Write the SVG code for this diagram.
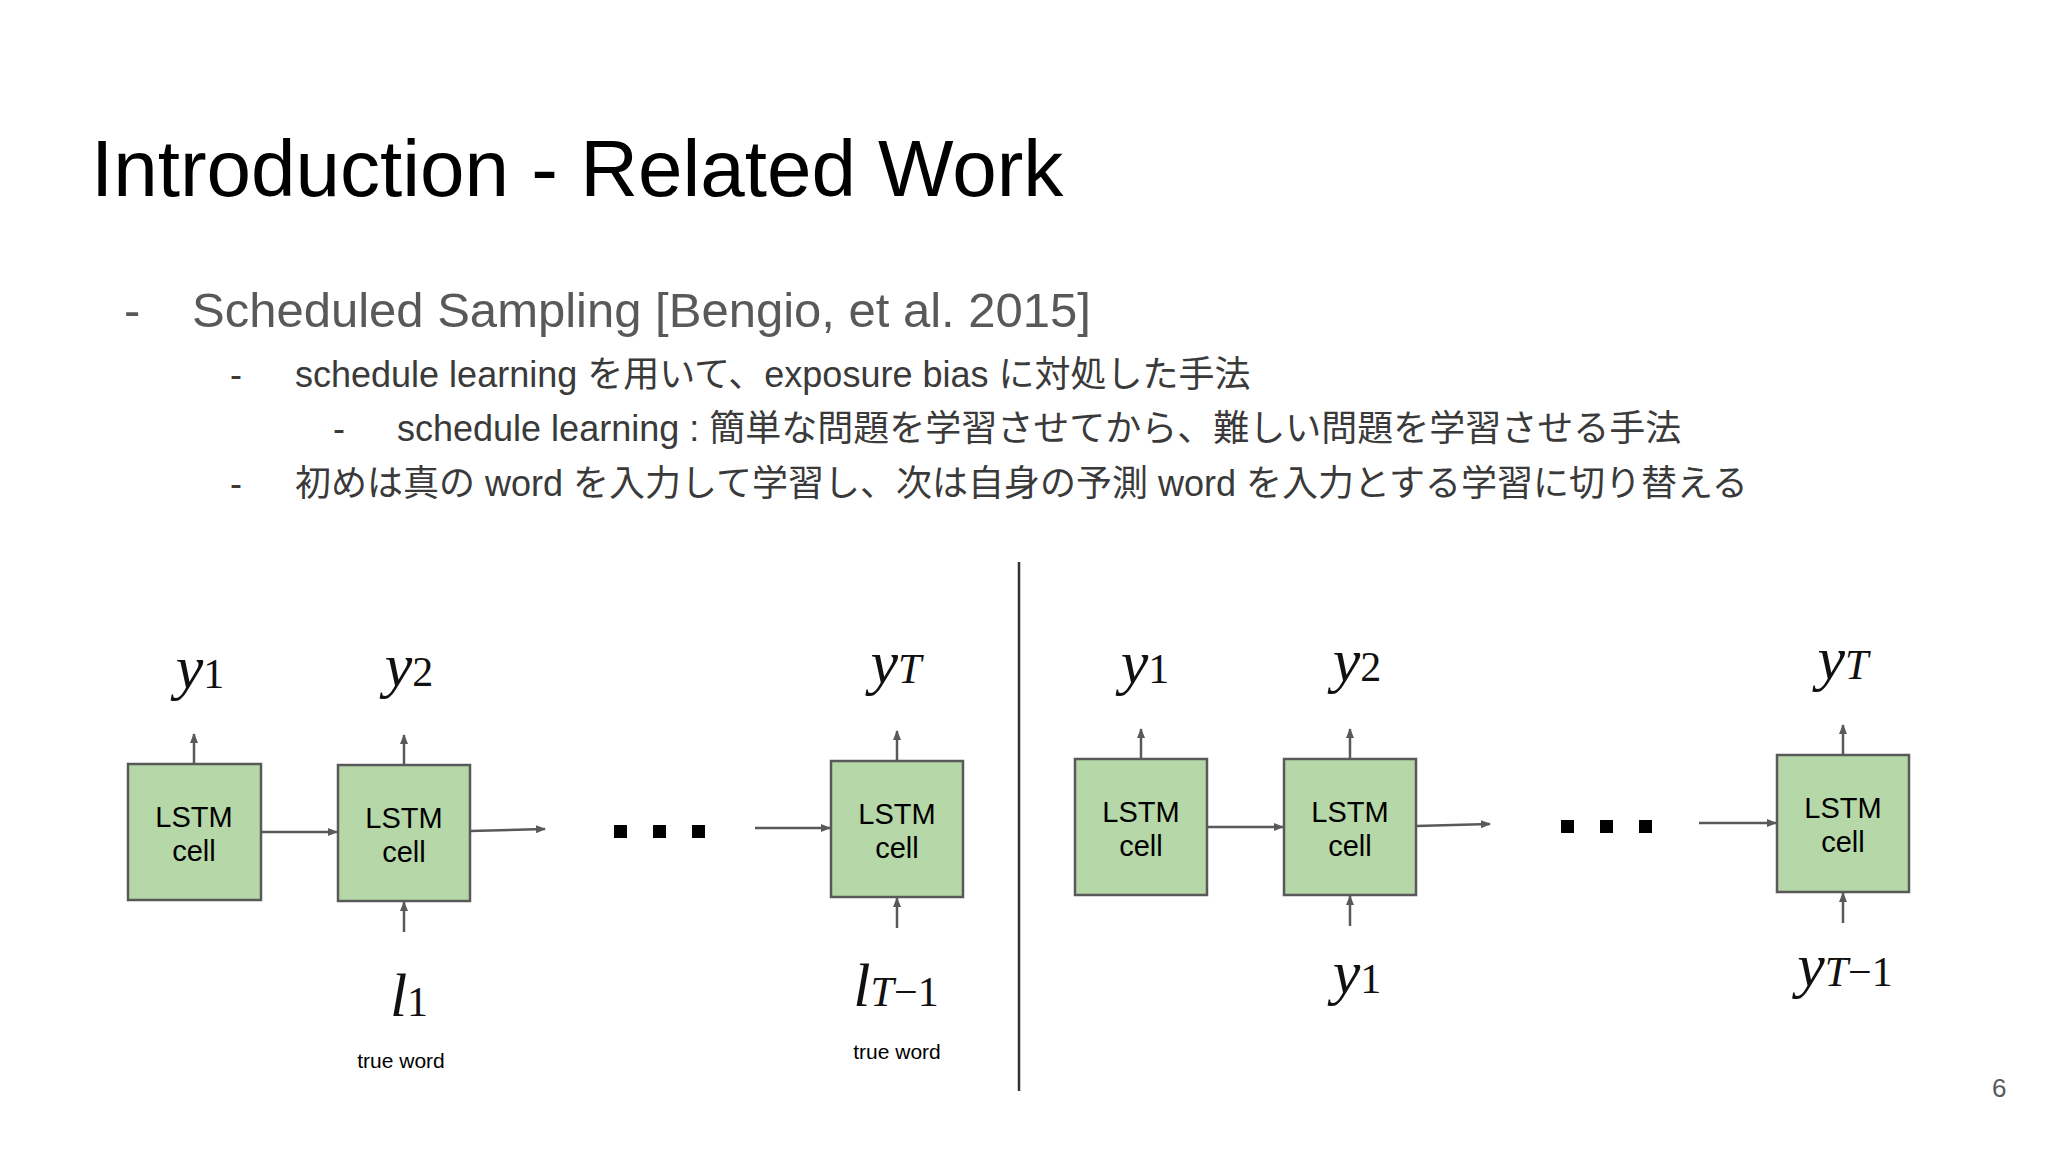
<svg xmlns="http://www.w3.org/2000/svg" width="2048" height="1152" viewBox="0 0 2048 1152">
<style>
.t{font-family:"Liberation Sans","Noto Sans CJK JP",sans-serif}
.box{fill:#b6d7a8;stroke:#595959;stroke-width:2.5}
.bl{font-family:"Liberation Sans",sans-serif;font-size:29px;fill:#000;text-anchor:middle}
.m{font-family:"Liberation Serif",serif;font-style:italic;font-size:62px;fill:#111;text-anchor:middle}
.s{font-style:normal;font-size:42px}
.st{font-size:42px}
.c{stroke:#595959;stroke-width:2.5;fill:none;marker-end:url(#a)}
.d{fill:#000}
.tw{font-family:"Liberation Sans",sans-serif;font-size:21px;fill:#000;text-anchor:middle}
</style>
<defs><marker id="a" markerWidth="10" markerHeight="8" refX="9" refY="4" orient="auto" markerUnits="userSpaceOnUse"><path d="M0,0 L10,4 L0,8 z" fill="#595959"/></marker></defs>
<rect width="2048" height="1152" fill="#fff"/>
<text class="t" x="91" y="196" font-size="80" fill="#000">Introduction - Related Work</text>
<g class="t" fill="#595959">
<text x="124" y="327" font-size="49">-</text><text x="192" y="327" font-size="49">Scheduled Sampling [Bengio, et al. 2015]</text>
</g>
<g class="t" fill="#3a3a3a" font-size="36">
<text x="230" y="387">-</text><text x="295" y="387">schedule learning を用いて、exposure bias に対処した手法</text>
<text x="333" y="441">-</text><text x="397" y="441">schedule learning : 簡単な問題を学習させてから、難しい問題を学習させる手法</text>
<text x="230" y="496">-</text><text x="295" y="496">初めは真の word を入力して学習し、次は自身の予測 word を入力とする学習に切り替える</text>
</g>
<line x1="1019" y1="562" x2="1019" y2="1091" stroke="#333" stroke-width="2.5"/>
<g id="n1"><rect class="box" x="128" y="764" width="133" height="136"/><text class="bl" x="194" y="827">LSTM</text><text class="bl" x="194" y="861">cell</text></g>
<g id="n2"><rect class="box" x="338" y="765" width="132" height="136"/><text class="bl" x="404" y="828">LSTM</text><text class="bl" x="404" y="862">cell</text></g>
<g id="n3"><rect class="box" x="831" y="761" width="132" height="136"/><text class="bl" x="897" y="824">LSTM</text><text class="bl" x="897" y="858">cell</text></g>
<g id="n4"><rect class="box" x="1075" y="759" width="132" height="136"/><text class="bl" x="1141" y="822">LSTM</text><text class="bl" x="1141" y="856">cell</text></g>
<g id="n5"><rect class="box" x="1284" y="759" width="132" height="136"/><text class="bl" x="1350" y="822">LSTM</text><text class="bl" x="1350" y="856">cell</text></g>
<g id="n6"><rect class="box" x="1777" y="755" width="132" height="137"/><text class="bl" x="1843" y="818">LSTM</text><text class="bl" x="1843" y="852">cell</text></g>
<g id="connectors">
<line class="c" x1="194" y1="764" x2="194" y2="734"/>
<line class="c" x1="404" y1="765" x2="404" y2="735"/>
<line class="c" x1="897" y1="761" x2="897" y2="731"/>
<line class="c" x1="1141" y1="759" x2="1141" y2="729"/>
<line class="c" x1="1350" y1="759" x2="1350" y2="729"/>
<line class="c" x1="1843" y1="755" x2="1843" y2="725"/>
<line class="c" x1="404" y1="932" x2="404" y2="902"/>
<line class="c" x1="897" y1="928" x2="897" y2="898"/>
<line class="c" x1="1350" y1="926" x2="1350" y2="896"/>
<line class="c" x1="1843" y1="923" x2="1843" y2="893"/>
<line class="c" x1="261" y1="832" x2="337" y2="832"/>
<line class="c" x1="470" y1="831" x2="545" y2="829"/>
<line class="c" x1="755" y1="828" x2="830" y2="828"/>
<line class="c" x1="1207" y1="827" x2="1283" y2="827"/>
<line class="c" x1="1416" y1="826" x2="1490" y2="824"/>
<line class="c" x1="1699" y1="823" x2="1776" y2="823"/>
</g>
<rect class="d" x="614" y="825" width="13" height="13"/><rect class="d" x="653" y="825" width="13" height="13"/><rect class="d" x="692" y="825" width="13" height="13"/>
<rect class="d" x="1561" y="820" width="13" height="13"/><rect class="d" x="1600" y="820" width="13" height="13"/><rect class="d" x="1639" y="820" width="13" height="13"/>
<text class="m" x="200" y="688">y<tspan class="s">1</tspan></text>
<text class="m" x="409" y="686">y<tspan class="s">2</tspan></text>
<text class="m" x="896" y="683">y<tspan class="st">T</tspan></text>
<text class="m" x="1145" y="683">y<tspan class="s">1</tspan></text>
<text class="m" x="1357" y="681">y<tspan class="s">2</tspan></text>
<text class="m" x="1843" y="679">y<tspan class="st">T</tspan></text>
<text class="m" x="409" y="1016">l<tspan class="s">1</tspan></text>
<text class="m" x="896" y="1006">l<tspan class="st">T</tspan><tspan class="s">−1</tspan></text>
<text class="m" x="1357" y="993">y<tspan class="s">1</tspan></text>
<text class="m" x="1845" y="986">y<tspan class="st">T</tspan><tspan class="s">−1</tspan></text>
<text class="tw" x="401" y="1068">true word</text>
<text class="tw" x="897" y="1059">true word</text>
<text class="t" x="1992" y="1097" font-size="26" fill="#595959">6</text>
</svg>
